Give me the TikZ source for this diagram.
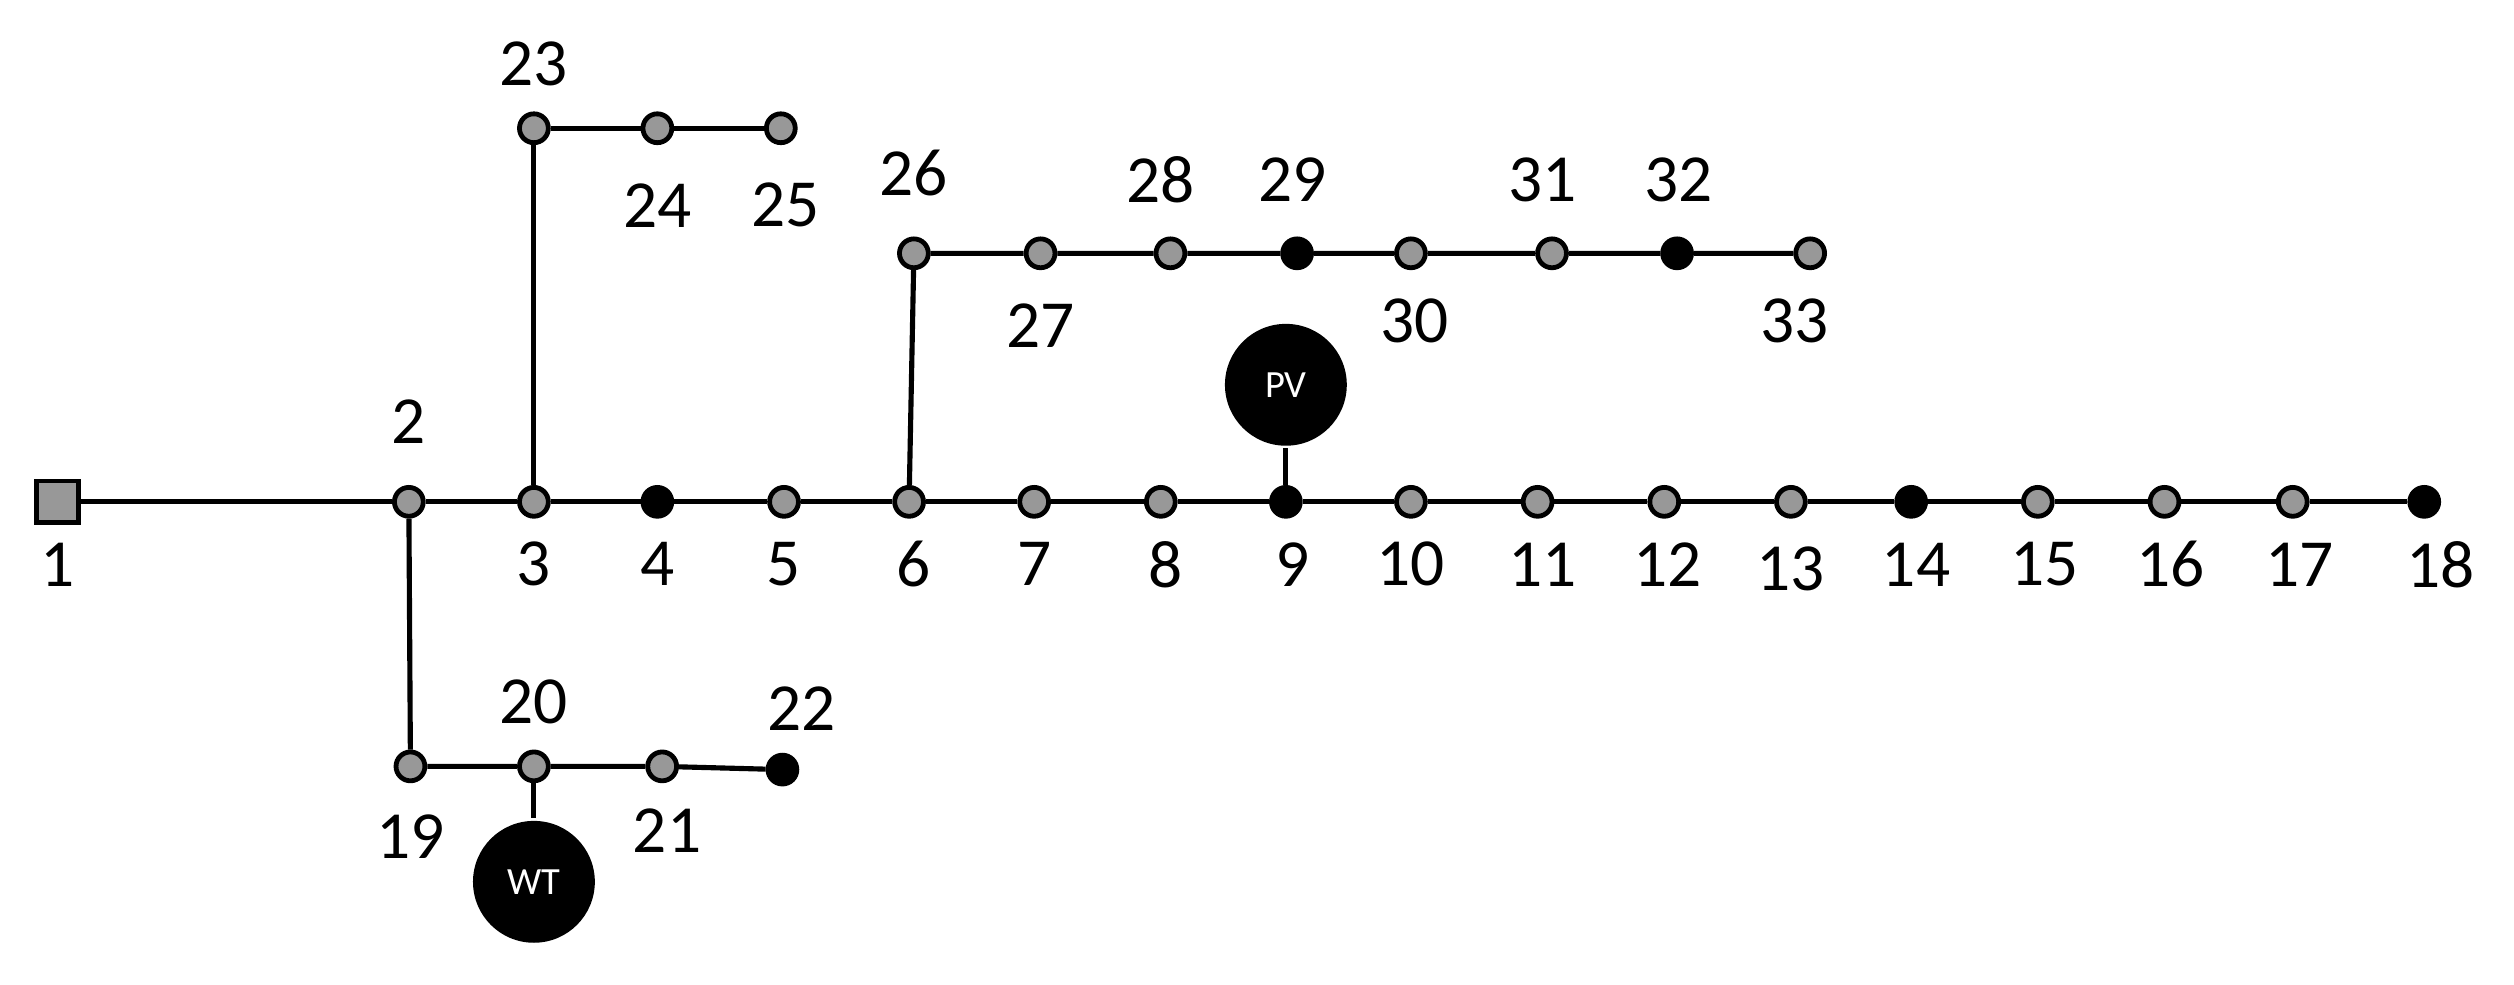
\documentclass[tikz,border=0pt]{standalone}
\usepackage{fontspec}
\setmainfont{Carlito}
\begin{document}
\begin{tikzpicture}[x=0.5pt,y=-0.5pt,
  bus/.style={circle,draw=black,line width=1.5pt,fill=gray!85!black!70,minimum size=9pt,inner sep=0pt},
  bbus/.style={bus,fill=black},
  gen/.style={circle,fill=black,minimum size=38pt,inner sep=0pt,text=white,font=\fontsize{12}{14}\selectfont},
  lab/.style={font=\fontsize{21}{24}\selectfont},
  every path/.style={line width=1.6pt}]
\useasboundingbox (0,0) rectangle (1568,614);
\node[draw=black,line width=1.5pt,fill=gray!85!black!70,minimum size=13pt,inner sep=0pt] (n1) at (36,313) {};
\foreach \n/\x in {2/255,3/333,5/489,6/567,7/645,8/724,10/880,11/959,12/1038,13/1117,15/1271,16/1350,17/1430}
  \node[bus] (n\n) at (\x,313) {};
\foreach \n/\x in {4/410,9/802,14/1192,18/1512}
  \node[bbus] (n\n) at (\x,313) {};
\foreach \n/\x in {23/333,24/410,25/487} \node[bus] (n\n) at (\x,80) {};
\foreach \n/\x in {26/570,27/649,28/730,30/880,31/968,33/1129} \node[bus] (n\n) at (\x,158) {};
\foreach \n/\x in {29/809,32/1046} \node[bbus] (n\n) at (\x,158) {};
\foreach \n/\x in {19/256,20/333,21/413} \node[bus] (n\n) at (\x,478) {};
\node[bbus] (n22) at (488,480) {};
\node[gen] (pv) at (802,240) {PV};
\node[gen] (wt) at (333,550) {WT};
\begin{scope}[on background layer/.try]
\end{scope}
\draw (n1) -- (n2) -- (n3) -- (n4) -- (n5) -- (n6) -- (n7) -- (n8) -- (n9) -- (n10) -- (n11) -- (n12) -- (n13) -- (n14) -- (n15) -- (n16) -- (n17) -- (n18);
\draw (n3) -- (n23) -- (n24) -- (n25);
\draw (n6) -- (n26) -- (n27) -- (n28) -- (n29) -- (n30) -- (n31) -- (n32) -- (n33);
\draw (n2) -- (n19) -- (n20) -- (n21) -- (n22);
\draw (n9) -- (pv);
\draw (n20) -- (wt);
% labels
\foreach \t/\x/\y in {1/36/352,3/333/352,4/410/352,5/489/352,6/570/352,7/645/352,8/727/352,9/806/352,10/880/352,11/962/352,12/1040/352,13/1117/355,14/1195/352,15/1275/352,16/1354/352,17/1434/352,18/1522/352,
  2/255/263,23/333/40,24/410/128,25/490/128,26/570/108,27/649/203,28/724/112,29/806/112,30/882/200,31/962/112,32/1047/112,33/1119/200,
  19/256/522,20/333/438,21/416/518,22/500/442}
  \node[lab] (l\t) at (\x,\y) {\t};
\end{tikzpicture}
\end{document}
